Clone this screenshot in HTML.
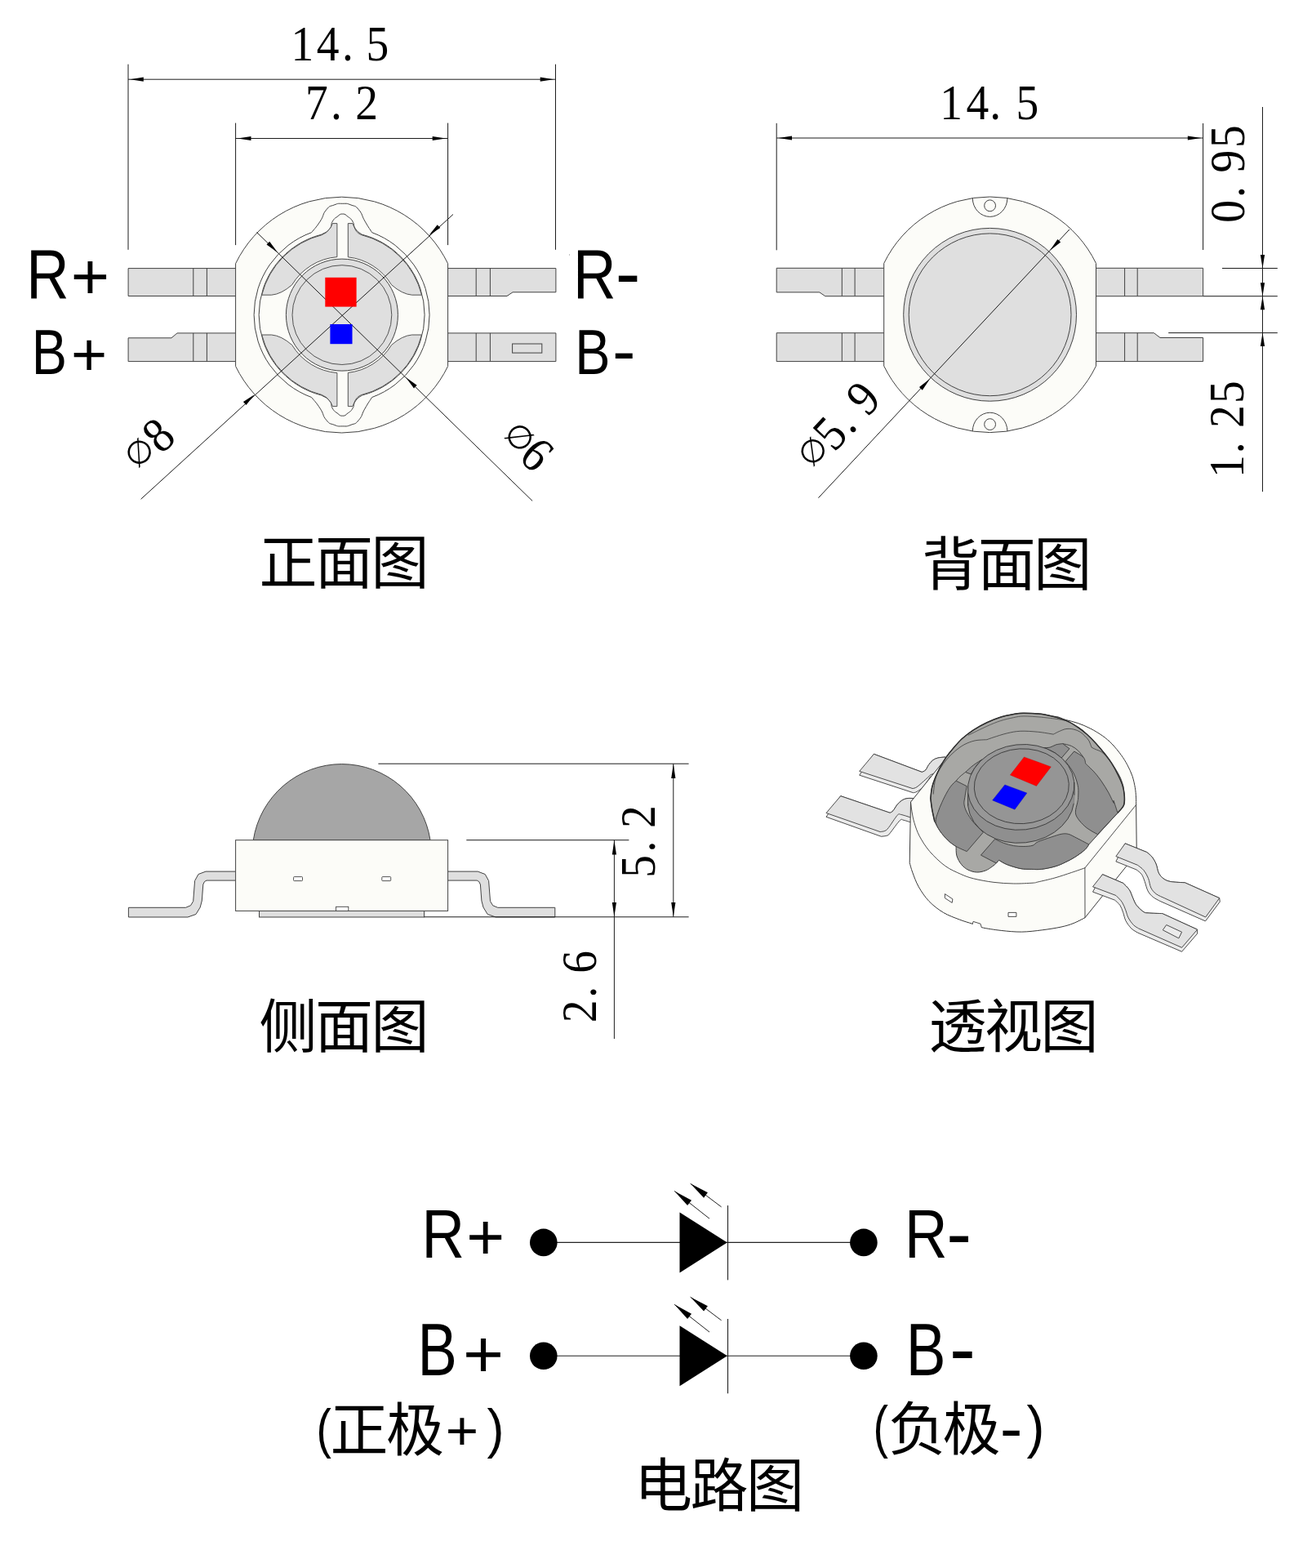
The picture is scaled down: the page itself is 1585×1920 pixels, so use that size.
<!DOCTYPE html>
<html lang="zh-CN">
<head>
<meta charset="utf-8">
<title>LED 尺寸图</title>
<style>
html,body{margin:0;padding:0;background:#fff;}
body{width:1585px;height:1920px;overflow:hidden;}
svg{display:block;will-change:transform;}
text{white-space:pre;}
</style>
</head>
<body>
<svg width="1585" height="1920" viewBox="0 0 1585 1920">
<rect width="1585" height="1920" fill="#fff"/>
<g id="front">
<polygon points="157.1,328.6 290.6,328.6 290.6,362.5 157.1,362.5" fill="#dfdfdf" stroke="#424242" stroke-width="1" stroke-linejoin="round"/>
<polygon points="157.1,413.8 210,413.8 217,407.9 290.6,407.9 290.6,442.6 157.1,442.6" fill="#dfdfdf" stroke="#424242" stroke-width="1" stroke-linejoin="round"/>
<polygon points="546.6,328.6 680.9,328.6 680.9,357.8 628,357.8 621,362.5 546.6,362.5" fill="#dfdfdf" stroke="#424242" stroke-width="1" stroke-linejoin="round"/>
<polygon points="546.6,407.9 680.9,407.9 680.9,442.6 546.6,442.6" fill="#dfdfdf" stroke="#424242" stroke-width="1" stroke-linejoin="round"/>
<rect x="627.6" y="421" width="36.2" height="11.1" fill="#dfdfdf" stroke="#424242"/>
<line x1="236.8" y1="328.6" x2="236.8" y2="362.5" stroke="#424242" stroke-width="1"/>
<line x1="236.8" y1="407.9" x2="236.8" y2="442.6" stroke="#424242" stroke-width="1"/>
<line x1="253.4" y1="328.6" x2="253.4" y2="362.5" stroke="#424242" stroke-width="1"/>
<line x1="253.4" y1="407.9" x2="253.4" y2="442.6" stroke="#424242" stroke-width="1"/>
<line x1="583.2" y1="328.6" x2="583.2" y2="362.5" stroke="#424242" stroke-width="1"/>
<line x1="583.2" y1="407.9" x2="583.2" y2="442.6" stroke="#424242" stroke-width="1"/>
<line x1="600.4" y1="328.6" x2="600.4" y2="362.5" stroke="#424242" stroke-width="1"/>
<line x1="600.4" y1="407.9" x2="600.4" y2="442.6" stroke="#424242" stroke-width="1"/>
<path d="M288.6 322.74 A144.4 144.4 0 0 1 548.6 322.74 L548.6 448.46 A144.4 144.4 0 0 1 288.6 448.46 Z" fill="#fcfcf8" stroke="#424242" stroke-width="1" stroke-linejoin="round"/>
<path d="M381.6 284.67 C384.75 280.6 386.67 279.43 392.1 271.1 C397.53 262.77 394.57 262.93 399.7 256.9 C404.83 250.87 403.23 253.28 409.2 251 C415.17 248.72 413.36 249.3 419.6 249.3 C425.84 249.3 424.03 248.72 430 251 C435.97 253.28 434.37 250.87 439.5 256.9 C444.63 262.93 442.27 262.77 447.1 271.1 C451.93 279.43 453.05 280.6 455.6 284.67 A107.5 107.5 0 0 1 455.6 486.53 C453.05 490.6 451.93 491.77 447.1 500.1 C442.27 508.43 444.63 508.27 439.5 514.3 C434.37 520.33 435.97 517.92 430 520.2 C424.03 522.48 425.84 521.9 419.6 521.9 C413.36 521.9 415.17 522.48 409.2 520.2 C403.23 517.92 404.83 520.33 399.7 514.3 C394.57 508.27 397.53 508.43 392.1 500.1 C386.67 491.77 384.75 490.6 381.6 486.53 A107.5 107.5 0 0 1 381.6 284.67 Z" fill="#fcfcf8" stroke="#424242" stroke-width="1" stroke-linejoin="round"/>
<path d="M393.6 287.23 C396.57 285.24 399.39 285.44 403.5 280.6 C407.61 275.76 404.45 275.66 407.3 271.1 C410.15 266.54 409.31 268.13 413 265.4 C416.69 262.67 415.64 262 419.6 262 C423.56 262 422.51 262.67 426.2 265.4 C429.89 268.13 429.05 266.54 431.9 271.1 C434.75 275.66 432.19 275.76 435.7 280.6 C439.21 285.44 441.23 285.24 443.6 287.23 A101.5 101.5 0 0 1 443.6 483.97 C441.23 485.96 439.21 485.76 435.7 490.6 C432.19 495.44 434.75 495.54 431.9 500.1 C429.05 504.66 429.89 503.07 426.2 505.8 C422.51 508.53 423.56 509.2 419.6 509.2 C415.64 509.2 416.69 508.53 413 505.8 C409.31 503.07 410.15 504.66 407.3 500.1 C404.45 495.54 407.61 495.44 403.5 490.6 C399.39 485.76 396.57 485.96 393.6 483.97 A101.5 101.5 0 0 1 393.6 287.23 Z" fill="#fcfcf8" stroke="#424242" stroke-width="1" stroke-linejoin="round"/>
<path d="M426.3 273.6 L426.3 314.82 A71.2 71.2 0 0 1 479.54 348.79 Q492.6 360.2 504.6 361.2 L516.52 361.2 A100.9 100.9 0 0 0 443.1 287.72 Q436.6 285.6 434.1 278.6 L431.9 273.6 Z" fill="#dfdfdf" stroke="#424242" stroke-width="0.9" stroke-linejoin="round"/>
<path d="M426.3 497.6 L426.3 456.38 A71.2 71.2 0 0 0 479.54 422.41 Q492.6 411 504.6 410 L516.52 410 A100.9 100.9 0 0 1 443.1 483.48 Q436.6 485.6 434.1 492.6 L431.9 497.6 Z" fill="#dfdfdf" stroke="#424242" stroke-width="0.9" stroke-linejoin="round"/>
<path d="M412.9 273.6 L412.9 314.63 A71.2 71.2 0 0 0 357.66 348.79 Q344.6 360.2 332.6 361.2 L320.68 361.2 A100.9 100.9 0 0 1 394.1 287.72 Q400.6 285.6 405.1 278.6 L407.3 273.6 Z" fill="#dfdfdf" stroke="#424242" stroke-width="0.9" stroke-linejoin="round"/>
<path d="M412.9 497.6 L412.9 456.57 A71.2 71.2 0 0 1 357.66 422.41 Q344.6 411 332.6 410 L320.68 410 A100.9 100.9 0 0 0 394.1 483.48 Q400.6 485.6 405.1 492.6 L407.3 497.6 Z" fill="#dfdfdf" stroke="#424242" stroke-width="0.9" stroke-linejoin="round"/>
<circle cx="418.9" cy="385.6" r="68.5" fill="#dfdfdf" stroke="#424242"/>
<circle cx="418.9" cy="385.6" r="60.9" fill="none" stroke="#424242" stroke-width="0.9"/>
<line x1="172.6" y1="611.2" x2="555" y2="262.5" stroke="#1c1c1c" stroke-width="1"/>
<line x1="314.5" y1="284.4" x2="652.1" y2="613.4" stroke="#1c1c1c" stroke-width="1"/>
<polygon points="525.3,288.3 535.74,275.26 539.24,279.11" fill="#000"/>
<polygon points="311.9,482.9 301.46,495.94 297.96,492.09" fill="#000"/>
<polygon points="497.02,462.02 510.65,471.68 507.02,475.4" fill="#000"/>
<polygon points="340.18,309.18 326.55,299.52 330.18,295.8" fill="#000"/>
<rect x="398.3" y="339.8" width="38.3" height="35.8" fill="#ff0000"/>
<rect x="404.4" y="397" width="27.1" height="24.2" fill="#0000ff"/>
<line x1="157" y1="78.7" x2="157" y2="305.8" stroke="#1c1c1c" stroke-width="1"/>
<line x1="680.5" y1="78.7" x2="680.5" y2="305.8" stroke="#1c1c1c" stroke-width="1"/>
<line x1="157" y1="97.2" x2="680.5" y2="97.2" stroke="#1c1c1c" stroke-width="1"/>
<polygon points="159.3,97.2 175.8,94.6 175.8,99.8" fill="#000"/>
<polygon points="678.2,97.2 661.7,99.8 661.7,94.6" fill="#000"/>
<line x1="288.6" y1="150.6" x2="288.6" y2="300.1" stroke="#1c1c1c" stroke-width="1"/>
<line x1="548.6" y1="150.6" x2="548.6" y2="300.1" stroke="#1c1c1c" stroke-width="1"/>
<line x1="288.6" y1="169.5" x2="548.6" y2="169.5" stroke="#1c1c1c" stroke-width="1"/>
<polygon points="291,169.5 307.5,166.9 307.5,172.1" fill="#000"/>
<polygon points="546.2,169.5 529.7,172.1 529.7,166.9" fill="#000"/>
<text transform="translate(0 74) scale(0.91 1)" font-family="'Liberation Serif','Noto Serif CJK SC',serif" font-size="61" text-anchor="middle" fill="#000" x="407.03 441.43 468.13 508.24" y="0">14.5</text>
<text transform="translate(0 145.9) scale(0.91 1)" font-family="'Liberation Serif','Noto Serif CJK SC',serif" font-size="61" text-anchor="middle" fill="#000" x="426.37 452.75 493.63" y="0">7.2</text>
<text transform="translate(184.32 568.94) rotate(-42.4) scale(0.91 1)" fill="#000" text-anchor="middle"><tspan font-family="'DejaVu Sans','Liberation Sans',sans-serif" font-size="39.5" x="0" y="-6.68" textLength="37.81" lengthAdjust="spacingAndGlyphs">∅</tspan><tspan font-family="'Liberation Serif','Noto Serif CJK SC',serif" font-size="61" x="34.55" y="0">8</tspan></text>
<text transform="translate(622.48 550.07) rotate(44.3) scale(0.91 1)" fill="#000" text-anchor="middle"><tspan font-family="'DejaVu Sans','Liberation Sans',sans-serif" font-size="39.5" x="0" y="-6.68" textLength="37.81" lengthAdjust="spacingAndGlyphs">∅</tspan><tspan font-family="'Liberation Serif','Noto Serif CJK SC',serif" font-size="61" x="32.63" y="0">6</tspan></text>
<text font-family="'Liberation Sans','Noto Sans CJK SC',sans-serif" fill="#000"><tspan x="32.2" y="364.5" font-size="84.35" textLength="52.38" lengthAdjust="spacingAndGlyphs">R</tspan><tspan x="86.85" y="366.31" font-size="78.98" textLength="47.32" lengthAdjust="spacingAndGlyphs">+</tspan></text>
<text font-family="'Liberation Sans','Noto Sans CJK SC',sans-serif" fill="#000"><tspan x="38.81" y="457.8" font-size="78.41" textLength="43.26" lengthAdjust="spacingAndGlyphs">B</tspan><tspan x="87.12" y="460.37" font-size="74.08" textLength="44.19" lengthAdjust="spacingAndGlyphs">+</tspan></text>
<text font-family="'Liberation Sans','Noto Sans CJK SC',sans-serif" fill="#000"><tspan x="701.97" y="364.5" font-size="84.35" textLength="52.62" lengthAdjust="spacingAndGlyphs">R</tspan><tspan x="753.65" y="366.19" font-size="93.75" textLength="30.72" lengthAdjust="spacingAndGlyphs">-</tspan></text>
<text font-family="'Liberation Sans','Noto Sans CJK SC',sans-serif" fill="#000"><tspan x="704.21" y="457.8" font-size="78.41" textLength="43.26" lengthAdjust="spacingAndGlyphs">B</tspan><tspan x="749.94" y="457.88" font-size="81.25" textLength="28.54" lengthAdjust="spacingAndGlyphs">-</tspan></text>
<text font-family="'Liberation Sans','Noto Sans CJK SC',sans-serif" fill="#000"><tspan x="317.6 386.1 454.6" y="713.5" font-size="71">正面图</tspan></text>
<rect x="697" y="311.5" width="1" height="1" fill="#888"/>
</g>
<g id="back">
<polygon points="951.2,328.3 1084.7,328.3 1084.7,362.7 1010.8,362.7 1003.8,357.9 951.2,357.9" fill="#dfdfdf" stroke="#424242" stroke-width="1" stroke-linejoin="round"/>
<polygon points="951.2,407.7 1084.7,407.7 1084.7,442.6 951.2,442.6" fill="#dfdfdf" stroke="#424242" stroke-width="1" stroke-linejoin="round"/>
<polygon points="1340.5,328.3 1473.6,328.3 1473.6,362.7 1340.5,362.7" fill="#dfdfdf" stroke="#424242" stroke-width="1" stroke-linejoin="round"/>
<polygon points="1340.5,407.7 1413.4,407.7 1421,413.5 1473.6,413.5 1473.6,442.6 1340.5,442.6" fill="#dfdfdf" stroke="#424242" stroke-width="1" stroke-linejoin="round"/>
<line x1="1031.3" y1="328.3" x2="1031.3" y2="362.7" stroke="#424242" stroke-width="1"/>
<line x1="1031.3" y1="407.7" x2="1031.3" y2="442.6" stroke="#424242" stroke-width="1"/>
<line x1="1047.1" y1="328.3" x2="1047.1" y2="362.7" stroke="#424242" stroke-width="1"/>
<line x1="1047.1" y1="407.7" x2="1047.1" y2="442.6" stroke="#424242" stroke-width="1"/>
<line x1="1377.6" y1="328.3" x2="1377.6" y2="362.7" stroke="#424242" stroke-width="1"/>
<line x1="1377.6" y1="407.7" x2="1377.6" y2="442.6" stroke="#424242" stroke-width="1"/>
<line x1="1393.2" y1="328.3" x2="1393.2" y2="362.7" stroke="#424242" stroke-width="1"/>
<line x1="1393.2" y1="407.7" x2="1393.2" y2="442.6" stroke="#424242" stroke-width="1"/>
<path d="M1082.7 322.46 A144.3 144.3 0 0 1 1342.5 322.46 L1342.5 448.14 A144.3 144.3 0 0 1 1082.7 448.14 Z" fill="#fcfcf8" stroke="#424242" stroke-width="1" stroke-linejoin="round"/>
<path d="M1191.3 242.58 A21.3 22.8 0 0 0 1233.9 242.58" fill="none" stroke="#424242" stroke-width="1" stroke-linejoin="round"/>
<path d="M1191.3 528.02 A21.3 22.8 0 0 1 1233.9 528.02" fill="none" stroke="#424242" stroke-width="1" stroke-linejoin="round"/>
<circle cx="1212.6" cy="251.8" r="6.9" fill="none" stroke="#424242"/>
<circle cx="1212.6" cy="519.6" r="6.9" fill="none" stroke="#424242"/>
<circle cx="1212.6" cy="385.3" r="105.9" fill="#dfdfdf" stroke="#424242"/>
<circle cx="1212.6" cy="385.3" r="99.4" fill="none" stroke="#424242"/>
<line x1="1002.4" y1="609.7" x2="1309.9" y2="281" stroke="#1c1c1c" stroke-width="1"/>
<polygon points="1286.04,306.8 1295.41,292.97 1299.21,296.52" fill="#000"/>
<polygon points="1139.16,463.8 1129.79,477.63 1125.99,474.08" fill="#000"/>
<line x1="951.2" y1="150.9" x2="951.2" y2="306.3" stroke="#1c1c1c" stroke-width="1"/>
<line x1="1473.6" y1="151" x2="1473.6" y2="306" stroke="#1c1c1c" stroke-width="1"/>
<line x1="951.2" y1="169" x2="1473.6" y2="169" stroke="#1c1c1c" stroke-width="1"/>
<polygon points="953.5,169 970,166.4 970,171.6" fill="#000"/>
<polygon points="1471.3,169 1454.8,171.6 1454.8,166.4" fill="#000"/>
<text transform="translate(0 146.4) scale(0.91 1)" font-family="'Liberation Serif','Noto Serif CJK SC',serif" font-size="61" text-anchor="middle" fill="#000" x="1280.44 1315.93 1339.78 1382.75" y="0">14.5</text>
<line x1="1546.5" y1="131" x2="1546.5" y2="602.1" stroke="#1c1c1c" stroke-width="1"/>
<line x1="1497" y1="328.5" x2="1564.8" y2="328.5" stroke="#1c1c1c" stroke-width="1"/>
<line x1="1473.6" y1="362.7" x2="1564.8" y2="362.7" stroke="#1c1c1c" stroke-width="1"/>
<line x1="1431.2" y1="407.6" x2="1564.8" y2="407.6" stroke="#1c1c1c" stroke-width="1"/>
<polygon points="1546.5,328.5 1543.9,312 1549.1,312" fill="#000"/>
<polygon points="1546.5,362.7 1543.9,346.2 1549.1,346.2" fill="#000"/>
<polygon points="1546.5,362.7 1549.1,379.2 1543.9,379.2" fill="#000"/>
<polygon points="1546.5,407.6 1549.1,424.1 1543.9,424.1" fill="#000"/>
<text transform="translate(1523.5 258.9) rotate(-90) scale(0.91 1)" font-family="'Liberation Serif','Noto Serif CJK SC',serif" font-size="61" text-anchor="middle" fill="#000" x="0 26.26 67.47 100.99" y="0">0.95</text>
<text transform="translate(1523.1 571.2) rotate(-90) scale(0.91 1)" font-family="'Liberation Serif','Noto Serif CJK SC',serif" font-size="61" text-anchor="middle" fill="#000" x="0 25.27 67.03 100.22" y="0">1.25</text>
<text transform="translate(1010.74 566.33) rotate(-46.8) scale(0.91 1)" fill="#000" text-anchor="middle"><tspan font-family="'DejaVu Sans','Liberation Sans',sans-serif" font-size="39.5" x="0" y="-6.68" textLength="37.81" lengthAdjust="spacingAndGlyphs">∅</tspan><tspan font-family="'Liberation Serif','Noto Serif CJK SC',serif" font-size="61" x="33.05 58.29 98.33" y="0">5.9</tspan></text>
<text font-family="'Liberation Sans','Noto Sans CJK SC',sans-serif" fill="#000"><tspan x="1129.2 1197.7 1266.2" y="715.5" font-size="71">背面图</tspan></text>
</g>
<g id="side">
<polygon points="289.6,1067.1 252,1067.1 243,1070.5 238.6,1078.5 236.7,1103.5 233.5,1108.8 227.5,1111.3 157.4,1111.3 157.4,1123 230,1123 240,1119.5 245.2,1111 247.3,1103 248.8,1083 250.5,1079.5 253,1078.1 289.6,1078.1" fill="#dfdfdf" stroke="#424242" stroke-width="1" stroke-linejoin="round"/>
<polygon points="547.6,1067.1 585.2,1067.1 594.2,1070.5 598.6,1078.5 600.5,1103.5 603.7,1108.8 609.7,1111.3 679.8,1111.3 679.8,1123 607.2,1123 597.2,1119.5 592,1111 589.9,1103 588.4,1083 586.7,1079.5 584.2,1078.1 547.6,1078.1" fill="#dfdfdf" stroke="#424242" stroke-width="1" stroke-linejoin="round"/>
<rect x="317.5" y="1113" width="202.1" height="10" fill="#dfdfdf" stroke="#424242"/>
<path d="M310.3 1028.7 A109.6 109.6 0 0 1 527 1028.7 Z" fill="#a6a6a6" stroke="#444" stroke-width="1" stroke-linejoin="round"/>
<rect x="288.6" y="1028.7" width="260" height="86.7" fill="#fcfcf8" stroke="#444"/>
<rect x="359.6" y="1073.6" width="10.9" height="5" rx="0.8" fill="#fff" stroke="#424242" stroke-width="0.9"/>
<rect x="467.8" y="1073.6" width="10.9" height="5" rx="0.8" fill="#fff" stroke="#424242" stroke-width="0.9"/>
<rect x="411.6" y="1110.3" width="15.2" height="5.1" fill="#fff" stroke="#424242" stroke-width="0.9"/>
<line x1="463.4" y1="935.2" x2="843.6" y2="935.2" stroke="#1c1c1c" stroke-width="1"/>
<line x1="571.3" y1="1028.7" x2="770.4" y2="1028.7" stroke="#1c1c1c" stroke-width="1"/>
<line x1="519.6" y1="1122.8" x2="843.6" y2="1122.8" stroke="#1c1c1c" stroke-width="1"/>
<line x1="824.8" y1="935.2" x2="824.8" y2="1122.8" stroke="#1c1c1c" stroke-width="1"/>
<polygon points="824.8,935.6 827.4,953.1 822.2,953.1" fill="#000"/>
<polygon points="824.8,1122.4 822.2,1104.9 827.4,1104.9" fill="#000"/>
<line x1="752.4" y1="1028.7" x2="752.4" y2="1272" stroke="#1c1c1c" stroke-width="1"/>
<polygon points="752.4,1029.1 755,1046.6 749.8,1046.6" fill="#000"/>
<polygon points="752.4,1122.4 749.8,1104.9 755,1104.9" fill="#000"/>
<text transform="translate(802 1060.9) rotate(-90) scale(0.91 1)" font-family="'Liberation Serif','Noto Serif CJK SC',serif" font-size="61" text-anchor="middle" fill="#000" x="0 26.7 66.92" y="0">5.2</text>
<text transform="translate(730.2 1238.4) rotate(-90) scale(0.91 1)" font-family="'Liberation Serif','Noto Serif CJK SC',serif" font-size="61" text-anchor="middle" fill="#000" x="0 26.04 66.59" y="0">2.6</text>
<text font-family="'Liberation Sans','Noto Sans CJK SC',sans-serif" fill="#000"><tspan x="317.6 386.1 454.6" y="1281.6" font-size="71">侧面图</tspan></text>
</g>
<g id="persp">
<path d="M1070.4 923.3 L1129.3 945.4 C1130.05 944.98 1132.43 944.37 1133.8 942.9 C1135.17 941.43 1136.03 938.6 1137.5 936.6 C1138.97 934.6 1140.7 932.33 1142.6 930.9 C1144.5 929.47 1146.33 928.65 1148.9 928 C1151.47 927.35 1156.48 927.17 1158 927 L1165 940 L1150 960 L1140 950.5 C1138.53 952.6 1134.03 959.95 1131.2 963.1 C1128.37 966.25 1125.1 968.13 1123 969.4 C1120.9 970.67 1119.33 970.48 1118.6 970.7 L1052.7 949.2Z" fill="#ebebeb" stroke="#3a3a3a" stroke-width="0.9" stroke-linejoin="round"/>
<path d="M1070.4 923.3 L1129.3 945.4 C1130.05 944.98 1132.43 944.37 1133.8 942.9 C1135.17 941.43 1136.03 938.6 1137.5 936.6 C1138.97 934.6 1140.7 932.33 1142.6 930.9 C1144.5 929.47 1146.33 928.65 1148.9 928 C1151.47 927.35 1156.48 927.17 1158 927 L1165 940 L1140.1 948.6 C1138.67 949.92 1134.35 953.98 1131.5 956.5 C1128.65 959.02 1125.25 962.18 1123 963.7 C1120.75 965.22 1118.83 965.28 1118 965.6 L1052.7 944.4Z" fill="#e2e2e2" stroke="#3a3a3a" stroke-width="0.9" stroke-linejoin="round"/>
<path d="M1029.7 974.7 L1090.2 995.3 C1090.83 994.87 1092.52 994.38 1094 992.7 C1095.48 991.02 1097.32 987.3 1099.1 985.2 C1100.88 983.1 1102.72 981.37 1104.7 980.1 C1106.68 978.83 1108.45 978.02 1111 977.6 C1113.55 977.18 1118.5 977.6 1120 977.6 L1120 1008.5 C1117.83 1007.8 1109.97 1004.93 1107 1004.3 C1104.03 1003.67 1104.88 1002.22 1102.2 1004.7 C1099.52 1007.18 1093.42 1016.15 1090.9 1019.2 C1088.38 1022.25 1089 1022.15 1087.1 1023 C1085.2 1023.85 1080.77 1024.08 1079.5 1024.3 L1012 1000.3Z" fill="#ebebeb" stroke="#3a3a3a" stroke-width="0.9" stroke-linejoin="round"/>
<path d="M1029.7 974.7 L1090.2 995.3 C1090.83 994.87 1092.52 994.38 1094 992.7 C1095.48 991.02 1097.32 987.3 1099.1 985.2 C1100.88 983.1 1102.72 981.37 1104.7 980.1 C1106.68 978.83 1108.45 978.02 1111 977.6 C1113.55 977.18 1118.5 977.6 1120 977.6 L1120 1002.5 C1117.25 1001.65 1106.98 998.08 1103.5 997.4 C1100.02 996.72 1101.63 995.7 1099.1 998.4 C1096.57 1001.1 1090.83 1010.43 1088.3 1013.6 C1085.77 1016.77 1085.58 1016.57 1083.9 1017.4 C1082.22 1018.23 1079.15 1018.4 1078.2 1018.6 L1012 995.5Z" fill="#e2e2e2" stroke="#3a3a3a" stroke-width="0.9" stroke-linejoin="round"/>
<path d="M1115.5 982 L1178.09 904.4 C1179.96 903.53 1185.46 900.75 1189.27 899.11 C1193.09 897.47 1197.02 895.94 1201 894.55 C1204.99 893.15 1209.07 891.89 1213.19 890.76 C1217.31 889.63 1221.51 888.63 1225.73 887.78 C1229.95 886.93 1234.23 886.21 1238.52 885.64 C1242.8 885.07 1247.12 884.64 1251.43 884.35 C1255.74 884.07 1257.93 885.12 1264.36 883.93 C1270.79 882.74 1283.19 877.62 1290 877.2 C1296.81 876.78 1300.15 880.02 1305.2 881.4 C1310.25 882.78 1315.25 883.73 1320.3 885.5 C1325.35 887.27 1330.45 889.4 1335.5 892 C1340.55 894.6 1346.18 897.95 1350.6 901.1 C1355.02 904.25 1358.22 907 1362 910.9 C1365.78 914.8 1370.15 920.2 1373.3 924.5 C1376.45 928.8 1378.62 932.4 1380.9 936.7 C1383.18 941 1385.42 945.63 1387 950.3 C1388.58 954.97 1389.65 960.4 1390.4 964.7 C1391.15 969 1391.3 972.63 1391.5 976.1 C1391.7 979.57 1391.58 983.93 1391.6 985.5 L1392.3 1045 L1329 1123.7 C1326.67 1124.83 1319.83 1128.62 1315 1130.5 C1310.17 1132.38 1306.38 1133.62 1300 1135 C1293.62 1136.38 1284.8 1137.78 1276.7 1138.8 C1268.6 1139.82 1259.82 1141 1251.4 1141.1 C1242.98 1141.2 1234.4 1140.32 1226.2 1139.4 C1218 1138.48 1208.08 1136.97 1202.2 1135.6 C1196.32 1134.23 1195.32 1132.77 1190.9 1131.2 C1186.48 1129.63 1181.6 1128.5 1175.7 1126.2 C1169.8 1123.9 1161.8 1121.18 1155.5 1117.4 C1149.2 1113.62 1142.95 1108.77 1137.9 1103.5 C1132.85 1098.23 1128.57 1091.7 1125.2 1085.8 C1121.83 1079.9 1119.53 1072.98 1117.7 1068.1 C1115.87 1063.22 1114.78 1058.43 1114.2 1056.5 L1115.5 982Z" fill="#fcfcf8" stroke="#3a3a3a" stroke-width="1" stroke-linejoin="round"/>
<path d="M1115.5 982 C1115.78 984.17 1116.47 990.78 1117.2 995 C1117.93 999.22 1118.4 1002.52 1119.9 1007.3 C1121.4 1012.08 1123.05 1017.82 1126.2 1023.7 C1129.35 1029.58 1133.55 1036.5 1138.8 1042.6 C1144.05 1048.7 1151.38 1055.68 1157.7 1060.3 C1164.02 1064.92 1170.91 1067.71 1176.7 1070.3 C1182.49 1072.89 1185.7 1074.15 1192.42 1075.82 C1199.15 1077.5 1208.83 1079.31 1217.03 1080.34 C1225.24 1081.36 1233.65 1081.84 1241.64 1081.98 C1249.64 1082.11 1260.06 1081.5 1265.02 1081.16 C1269.98 1080.81 1266.93 1080.95 1271.41 1079.93 C1275.89 1078.9 1285.08 1076.92 1291.92 1075 C1298.75 1073.09 1306.26 1070.48 1312.42 1068.44 C1318.59 1066.41 1326.15 1063.74 1328.9 1062.8" fill="none" stroke="#3a3a3a" stroke-width="0.9" stroke-linejoin="round"/>
<polyline points="1328.9,1062.8 1391.6,985.5" fill="none" stroke="#3a3a3a" stroke-width="0.9" stroke-linejoin="round" stroke-linecap="round"/>
<polyline points="1328.9,1062.8 1329,1123.7" fill="none" stroke="#3a3a3a" stroke-width="0.9" stroke-linejoin="round" stroke-linecap="round"/>
<path d="M1190.2 1133.5 L1192.1 1128.4 L1201 1131.2 L1202.6 1137.5 Z" fill="#fff" stroke="none" stroke-width="0" stroke-linejoin="round"/>
<polyline points="1191.2,1131.6 1192.1,1128.4 1201,1131.2 1202.2,1135.4" fill="none" stroke="#3a3a3a" stroke-width="0.9" stroke-linejoin="round" stroke-linecap="round"/>
<polygon points="1157.4,1094.6 1166.9,1100.9 1166.2,1105.4 1157.4,1099.7" fill="#fff" stroke="#3a3a3a" stroke-width="0.9" stroke-linejoin="round"/>
<polygon points="1235,1117.4 1244.9,1117.4 1244.9,1122.4 1235,1122.4" fill="#fff" stroke="#3a3a3a" stroke-width="0.9" stroke-linejoin="round"/>
<path d="M1144.84 1006.1 C1144.3 1003.5 1142.38 995.16 1141.56 990.51 C1140.74 985.86 1140.2 980.51 1139.92 978.2 C1139.65 975.89 1139.65 978.96 1139.92 976.64 C1140.2 974.33 1140.61 968.44 1141.56 964.34 C1142.52 960.24 1144.02 956.14 1145.66 952.03 C1147.31 947.93 1149.22 943.83 1151.41 939.73 C1153.59 935.63 1156.06 931.39 1158.79 927.42 C1161.52 923.46 1164.53 919.77 1167.81 915.94 C1171.1 912.11 1174.38 908.15 1178.48 904.45 C1182.58 900.76 1187.37 897.07 1192.42 893.79 C1197.48 890.51 1203.36 887.36 1208.83 884.77 C1214.3 882.17 1219.77 879.91 1225.24 878.2 C1230.71 876.49 1236.86 875.33 1241.64 874.51 C1246.43 873.69 1247.62 873.21 1253.95 873.28 C1260.28 873.35 1271.07 873.45 1279.61 874.92 C1288.15 876.39 1298.42 879.5 1305.2 882.1 C1311.98 884.7 1315.88 887.6 1320.3 890.5 C1324.72 893.4 1327.92 896.1 1331.7 899.5 C1335.48 902.9 1339.22 906.73 1343 910.9 C1346.78 915.07 1351.23 920.45 1354.4 924.5 C1357.57 928.55 1359.48 931.15 1362 935.2 C1364.52 939.25 1367.37 944.52 1369.5 948.8 C1371.63 953.08 1373.53 956.98 1374.8 960.9 C1376.07 964.82 1376.72 968.52 1377.1 972.3 C1377.48 976.08 1377.49 980.84 1377.1 983.6 C1376.71 986.36 1376.12 986.9 1374.77 988.87 C1373.42 990.84 1369.98 994.34 1369.03 995.43 L1333.75 1033.99 C1332.93 1035.08 1331.7 1037.95 1328.83 1040.55 C1325.96 1043.15 1320.63 1046.98 1316.53 1049.57 C1312.42 1052.17 1308.32 1054.22 1304.22 1056.14 C1300.12 1058.05 1296.7 1059.69 1291.92 1061.06 C1287.13 1062.43 1280.29 1063.79 1275.51 1064.34 C1270.72 1064.89 1267.48 1064.48 1263.2 1064.34 C1258.93 1064.2 1254.81 1064.48 1249.85 1063.52 C1244.89 1062.56 1237.82 1060.31 1233.44 1058.6 C1229.07 1056.89 1225.24 1054.15 1223.6 1053.26 L1220.32 1056.96 C1219.5 1057.64 1217.58 1059.55 1215.39 1061.06 C1213.21 1062.56 1210.33 1064.82 1207.19 1065.98 C1204.05 1067.14 1200.08 1068.17 1196.53 1068.03 C1192.97 1067.89 1189.01 1066.73 1185.86 1065.16 C1182.72 1063.59 1179.98 1061.47 1177.66 1058.6 C1175.33 1055.73 1173.01 1051.62 1171.92 1047.93 C1170.82 1044.24 1171.23 1038.36 1171.1 1036.45 C1169.45 1035.22 1164.53 1032.21 1161.25 1029.06 C1157.97 1025.92 1154.14 1021.41 1151.41 1017.58 C1148.67 1013.75 1145.94 1008.01 1144.84 1006.1Z" fill="#a8a8a5" stroke="#3a3a3a" stroke-width="1" stroke-linejoin="round"/>
<path d="M1144.84 1006.1 C1144.3 1003.5 1142.38 995.16 1141.56 990.51 C1140.74 985.86 1140.2 980.51 1139.92 978.2 C1139.65 975.89 1139.65 978.96 1139.92 976.64 C1140.2 974.33 1140.61 968.44 1141.56 964.34 C1142.52 960.24 1144.02 956.14 1145.66 952.03 C1147.31 947.93 1149.22 943.83 1151.41 939.73 C1153.59 935.63 1156.06 931.39 1158.79 927.42 C1161.52 923.46 1164.53 919.77 1167.81 915.94 C1171.1 912.11 1174.38 908.15 1178.48 904.45 C1182.58 900.76 1187.37 897.07 1192.42 893.79 C1197.48 890.51 1203.36 887.36 1208.83 884.77 C1214.3 882.17 1219.77 879.91 1225.24 878.2 C1230.71 876.49 1236.86 875.33 1241.64 874.51 C1246.43 873.69 1247.62 873.21 1253.95 873.28 C1260.28 873.35 1271.07 873.45 1279.61 874.92 C1288.15 876.39 1298.42 879.5 1305.2 882.1 C1311.98 884.7 1315.88 887.6 1320.3 890.5 C1324.72 893.4 1327.92 896.1 1331.7 899.5 C1335.48 902.9 1339.22 906.73 1343 910.9 C1346.78 915.07 1351.23 920.45 1354.4 924.5 C1357.57 928.55 1359.48 931.15 1362 935.2 C1364.52 939.25 1367.37 944.52 1369.5 948.8 C1371.63 953.08 1373.53 956.98 1374.8 960.9 C1376.07 964.82 1376.72 968.52 1377.1 972.3 C1377.48 976.08 1377.49 980.84 1377.1 983.6 C1376.71 986.36 1376.12 986.9 1374.77 988.87 C1373.42 990.84 1369.98 994.34 1369.03 995.43" fill="none" stroke="#2e2e2e" stroke-width="1.5" stroke-linejoin="round"/>
<path d="M1171.1 956.14 C1171.92 955.25 1174.1 952.58 1176.02 950.8 C1177.93 949.03 1181.49 946.36 1182.58 945.47" fill="none" stroke="#3a3a3a" stroke-width="0.9" stroke-linejoin="round"/>
<path d="M1301.76 910.61 C1303.54 911.09 1309.28 912.04 1312.42 913.48 C1315.57 914.91 1318.17 916.9 1320.63 919.22 C1323.09 921.54 1326.1 926.06 1327.19 927.42" fill="none" stroke="#3a3a3a" stroke-width="0.9" stroke-linejoin="round"/>
<path d="M1185.86 900.35 C1189.69 898.51 1202.27 892.22 1208.83 889.28 C1215.39 886.34 1219.77 884.49 1225.24 882.72 C1230.71 880.94 1236.86 879.57 1241.64 878.61 C1246.43 877.66 1248.31 877.04 1253.95 876.97 C1259.59 876.9 1268.5 877.59 1275.51 878.2 C1282.52 878.82 1291.23 879.98 1296.02 880.66 C1300.8 881.35 1302.85 882.03 1304.22 882.31" fill="none" stroke="#3a3a3a" stroke-width="0.7" stroke-linejoin="round"/>
<path d="M1143.2 972.54 C1143.61 969.54 1144.3 959.69 1145.66 954.5 C1147.03 949.3 1149.08 945.47 1151.41 941.37 C1153.73 937.27 1156.6 933.44 1159.61 929.89 C1162.62 926.33 1165.9 923.05 1169.45 920.04 C1173.01 917.03 1176.84 914.03 1180.94 911.84 C1185.04 909.65 1189.42 907.94 1194.06 906.92 C1198.71 905.89 1206.37 905.89 1208.83 905.68 C1210.2 905.21 1212.93 904.11 1217.03 902.81 C1221.14 901.51 1227.97 899.15 1233.44 897.89 C1238.91 896.63 1243.52 895.54 1249.85 895.27 C1256.18 894.99 1264.67 895.61 1271.41 896.25 C1278.14 896.89 1287.13 898.64 1290.27 899.12 C1291.51 898.51 1295.06 896.52 1297.66 895.43 C1300.26 894.34 1302.99 892.97 1305.86 892.56 C1308.73 892.15 1312.01 892.35 1314.89 892.97 C1317.76 893.58 1320.76 894.88 1323.09 896.25 C1325.41 897.62 1327.05 899.4 1328.83 901.17 C1330.61 902.95 1332.39 904.59 1333.75 906.92 C1335.12 909.24 1336.49 913.75 1337.03 915.12 C1337.85 915.53 1339.91 916.62 1341.96 917.58 C1344.01 918.54 1346.74 918.95 1349.34 920.86 C1351.94 922.78 1354.81 925.78 1357.54 929.06 C1360.28 932.35 1363.29 936.72 1365.75 940.55 C1368.21 944.38 1370.53 948.07 1372.31 952.03 C1374.09 956 1375.73 962.29 1376.41 964.34" fill="none" stroke="#3a3a3a" stroke-width="0.8" stroke-linejoin="round"/>
<path d="M1171.1 956.14 L1184.22 962.7 C1183.81 965.02 1182.31 972.97 1181.76 976.64 C1181.21 980.32 1180.53 981.77 1180.94 984.77 C1181.35 987.76 1182.31 990.92 1184.22 994.61 C1186.13 998.3 1189.07 1002.81 1192.42 1006.92 C1195.77 1011.02 1202.34 1017.17 1204.32 1019.22 L1184.22 1042.6 C1182.03 1041.58 1174.92 1038.7 1171.1 1036.45 C1167.27 1034.19 1164.53 1032.21 1161.25 1029.06 C1157.97 1025.92 1153.94 1021.41 1151.41 1017.58 C1148.88 1013.75 1146.48 1009.92 1146.07 1006.1 C1145.66 1002.27 1147.65 998.58 1148.95 994.61 C1150.24 990.65 1152.02 986.41 1153.87 982.31 C1155.71 978.2 1158.11 973.4 1160.02 970 C1161.93 966.6 1163.51 964.19 1165.35 961.88 C1167.2 959.57 1170.14 957.09 1171.1 956.14Z" fill="#8f8f8f" stroke="#3a3a3a" stroke-width="0.9" stroke-linejoin="round"/>
<path d="M1218.68 1027.42 L1201.45 1047.11 L1220.32 1056.96 L1223.6 1053.26 C1225.24 1054.15 1229.07 1056.89 1233.44 1058.6 C1237.82 1060.31 1244.89 1062.56 1249.85 1063.52 C1254.81 1064.48 1258.93 1064.2 1263.2 1064.34 C1267.48 1064.48 1270.72 1064.89 1275.51 1064.34 C1280.29 1063.79 1287.13 1062.43 1291.92 1061.06 C1296.7 1059.69 1300.12 1058.05 1304.22 1056.14 C1308.32 1054.22 1312.42 1052.17 1316.53 1049.57 C1320.63 1046.98 1325.96 1043.15 1328.83 1040.55 C1331.7 1037.95 1332.93 1035.08 1333.75 1033.99 C1330.88 1032.48 1320.76 1027.08 1316.53 1024.96 C1312.29 1022.84 1311.06 1021.89 1308.32 1021.27 C1305.59 1020.66 1303.54 1020.66 1300.12 1021.27 C1296.7 1021.89 1292.6 1023.39 1287.81 1024.96 C1283.03 1026.54 1275.21 1029 1271.41 1030.71 C1267.61 1032.41 1267.93 1034.26 1265.02 1035.22 C1262.12 1036.17 1257.85 1036.38 1253.95 1036.45 C1250.05 1036.52 1245.75 1036.31 1241.64 1035.63 C1237.54 1034.94 1233.17 1033.71 1229.34 1032.35 C1225.51 1030.98 1220.45 1028.24 1218.68 1027.42Z" fill="#8f8f8f" stroke="#3a3a3a" stroke-width="0.9" stroke-linejoin="round"/>
<path d="M1315.71 920.04 C1317.62 921.27 1324.87 924.96 1327.19 927.42 C1329.51 929.89 1329.24 933.58 1329.65 934.81 C1330.33 935.49 1331.84 936.99 1333.75 938.91 C1335.67 940.82 1338.54 943.28 1341.14 946.29 C1343.73 949.3 1346.61 952.99 1349.34 956.96 C1352.07 960.92 1355.08 965.71 1357.54 970.08 C1360 974.46 1363.01 981.44 1364.11 983.21 C1365.2 984.97 1363.29 978.63 1364.11 980.66 C1364.93 982.7 1368.21 992.97 1369.03 995.43 L1344.42 1021.68 C1343.19 1021 1339.63 1019.22 1337.03 1017.58 C1334.44 1015.94 1331.57 1014.3 1328.83 1011.84 C1326.1 1009.38 1322.54 1005.68 1320.63 1002.81 C1318.71 999.94 1317.48 998.03 1317.35 994.61 C1317.21 991.19 1319.26 985.3 1319.81 982.31 C1320.35 979.31 1320.49 979.64 1320.63 976.64 C1320.76 973.65 1321.17 968.44 1320.63 964.34 C1320.08 960.24 1318.71 955.73 1317.35 952.03 C1315.98 948.34 1314.47 945.47 1312.42 942.19 C1310.37 938.91 1306.27 933.99 1305.04 932.35 L1315.71 920.04Z" fill="#8f8f8f" stroke="#3a3a3a" stroke-width="0.9" stroke-linejoin="round"/>
<path d="M1277.97 915.53 C1279.34 915.46 1283.58 915.73 1286.17 915.12 C1288.77 914.5 1290.96 912.59 1293.56 911.84 C1296.15 911.09 1300.39 910.81 1301.76 910.61 L1309.96 916.76 L1300.12 928.24 C1298.75 927.15 1294.65 923.46 1291.92 921.68 C1289.18 919.9 1286.04 918.61 1283.71 917.58 C1281.39 916.55 1278.93 915.87 1277.97 915.53Z" fill="#8f8f8f" stroke="#3a3a3a" stroke-width="0.9" stroke-linejoin="round"/>
<path d="M1182.58 945.47 C1184.22 944.04 1189.01 939.46 1192.42 936.86 C1195.84 934.26 1201.31 931.05 1203.09 929.89 C1202.13 930.84 1199.67 932.62 1197.35 935.63 C1195.02 938.64 1190.51 945.88 1189.14 947.93 L1182.58 945.47Z" fill="#969696" stroke="#3a3a3a" stroke-width="0.9" stroke-linejoin="round"/>
<ellipse cx="1250.66" cy="979.87" rx="65.34" ry="52.23" transform="rotate(-6.25 1250.66 979.87)" fill="#8f8f8f" stroke="#3a3a3a" stroke-width="0.9"/>
<rect x="1185.66" y="967.87" width="130.2" height="16" fill="#8f8f8f"/>
<line x1="1185.6" y1="970.5" x2="1185.6" y2="986.5" stroke="#3a3a3a" stroke-width="0.9"/>
<line x1="1316" y1="958" x2="1316" y2="973.5" stroke="#3a3a3a" stroke-width="0.9"/>
<ellipse cx="1250.66" cy="963.87" rx="65.34" ry="52.23" transform="rotate(-6.25 1250.66 963.87)" fill="#979797" stroke="#3a3a3a" stroke-width="0.9"/>
<ellipse cx="1251.29" cy="962.73" rx="58.05" ry="45.9" transform="rotate(-3.2 1251.29 962.73)" fill="#959595" stroke="#3a3a3a" stroke-width="0.9"/>
<polygon points="1254.4,926.9 1287.4,938.9 1269.5,962.5 1237.3,949" fill="#ff0000" stroke="#b00" stroke-width="0.3" stroke-linejoin="round"/>
<polygon points="1230.8,960.9 1257.9,971 1243,991.2 1215.6,979.9" fill="#0000ff" stroke="#00a" stroke-width="0.3" stroke-linejoin="round"/>
<path d="M1378.2 1032.8 L1404.7 1043.5 C1405.75 1044.45 1409.1 1046.78 1411 1049.2 C1412.9 1051.62 1414.73 1054.73 1416.1 1058 C1417.47 1061.27 1417.73 1065.85 1419.2 1068.8 C1420.67 1071.75 1422.47 1073.92 1424.9 1075.7 C1427.33 1077.48 1429.38 1078.65 1433.8 1079.5 C1438.22 1080.35 1448.47 1080.58 1451.4 1080.8 L1493.7 1099.7 L1494.3 1104.1 L1476.7 1127.7 L1476 1127.7 L1421.1 1103.5 C1419.63 1102.65 1414.82 1100.5 1412.3 1098.4 C1409.78 1096.3 1407.68 1094.05 1406 1090.9 C1404.32 1087.75 1403.47 1082.87 1402.2 1079.5 C1400.93 1076.13 1400.08 1073.12 1398.4 1070.7 C1396.72 1068.28 1393.15 1065.95 1392.1 1065 L1366.9 1054.9Z" fill="#ebebeb" stroke="#3a3a3a" stroke-width="0.9" stroke-linejoin="round"/>
<path d="M1378.2 1032.8 L1404.7 1043.5 C1405.75 1044.45 1409.1 1046.78 1411 1049.2 C1412.9 1051.62 1414.73 1054.73 1416.1 1058 C1417.47 1061.27 1417.73 1065.85 1419.2 1068.8 C1420.67 1071.75 1422.47 1073.92 1424.9 1075.7 C1427.33 1077.48 1429.38 1078.65 1433.8 1079.5 C1438.22 1080.35 1448.47 1080.58 1451.4 1080.8 L1493.7 1099.7 L1476.7 1123 L1426.2 1099.7 C1424.52 1098.85 1418.83 1096.7 1416.1 1094.6 C1413.37 1092.5 1411.38 1090.25 1409.8 1087.1 C1408.22 1083.95 1408.08 1079.28 1406.6 1075.7 C1405.12 1072.12 1403.1 1068.33 1400.9 1065.6 C1398.7 1062.87 1394.65 1060.35 1393.4 1059.3 L1366.9 1048.6Z" fill="#e2e2e2" stroke="#3a3a3a" stroke-width="0.9" stroke-linejoin="round"/>
<path d="M1350.5 1070.7 L1375.7 1081.4 C1376.97 1082.77 1381.3 1086.55 1383.3 1089.6 C1385.3 1092.65 1386.23 1096.55 1387.7 1099.7 C1389.17 1102.85 1389.9 1105.67 1392.1 1108.5 C1394.3 1111.33 1398.37 1115.12 1400.9 1116.7 C1403.43 1118.28 1403.5 1117.68 1407.3 1118 C1411.1 1118.32 1420.97 1118.5 1423.7 1118.6 L1466.6 1138.2 L1466.6 1143.2 L1447.6 1165.3 L1393.4 1142 C1392.13 1141.15 1388.22 1139.33 1385.8 1136.9 C1383.38 1134.47 1380.58 1130.65 1378.9 1127.4 C1377.22 1124.15 1376.87 1120.55 1375.7 1117.4 C1374.53 1114.25 1373.58 1111.03 1371.9 1108.5 C1370.22 1105.97 1366.65 1103.25 1365.6 1102.2 L1338.5 1092.1Z" fill="#ebebeb" stroke="#3a3a3a" stroke-width="0.9" stroke-linejoin="round"/>
<path d="M1350.5 1070.7 L1375.7 1081.4 C1376.97 1082.77 1381.3 1086.55 1383.3 1089.6 C1385.3 1092.65 1386.23 1096.55 1387.7 1099.7 C1389.17 1102.85 1389.9 1105.67 1392.1 1108.5 C1394.3 1111.33 1398.37 1115.12 1400.9 1116.7 C1403.43 1118.28 1403.5 1117.68 1407.3 1118 C1411.1 1118.32 1420.97 1118.5 1423.7 1118.6 L1466.6 1138.2 L1447.6 1160.3 L1394.6 1136.9 C1393.55 1136.17 1390.4 1134.7 1388.3 1132.5 C1386.2 1130.3 1383.57 1126.65 1382 1123.7 C1380.43 1120.75 1380.17 1117.97 1378.9 1114.8 C1377.63 1111.63 1376.4 1107.75 1374.4 1104.7 C1372.4 1101.65 1368.15 1097.87 1366.9 1096.5 L1338.5 1085.8Z" fill="#e2e2e2" stroke="#3a3a3a" stroke-width="0.9" stroke-linejoin="round"/>
<polygon points="1428.7,1132.5 1447.6,1141.3 1443.8,1148.9 1424.3,1138.8" fill="#ebebeb" stroke="#3a3a3a" stroke-width="0.9" stroke-linejoin="round"/>
<text font-family="'Liberation Sans','Noto Sans CJK SC',sans-serif" fill="#000"><tspan x="1137.6 1206.1 1274.6" y="1281.6" font-size="71">透视图</tspan></text>
</g>
<g id="circuit">
<line x1="665.8" y1="1521.4" x2="1057.9" y2="1521.4" stroke="#222" stroke-width="1.1"/>
<circle cx="665.8" cy="1521.4" r="16.8" fill="#000"/>
<circle cx="1057.9" cy="1521.4" r="16.8" fill="#000"/>
<polygon points="832.5,1484.4 832.5,1558.4 890.8,1521.4" fill="#000"/>
<line x1="891.5" y1="1476.1" x2="891.5" y2="1567.4" stroke="#222" stroke-width="1.1"/>
<line x1="869" y1="1492.2" x2="826.1" y2="1458.4" stroke="#222" stroke-width="1"/>
<polygon points="826.1,1458.4 847.03,1469.8 842.08,1476.09" fill="#000"/>
<line x1="883.6" y1="1477.9" x2="845.7" y2="1449.3" stroke="#222" stroke-width="1"/>
<polygon points="845.7,1449.3 866.87,1460.26 862.05,1466.65" fill="#000"/>
<line x1="665.8" y1="1660.3" x2="1057.9" y2="1660.3" stroke="#222" stroke-width="1.1"/>
<circle cx="665.8" cy="1660.3" r="16.8" fill="#000"/>
<circle cx="1057.9" cy="1660.3" r="16.8" fill="#000"/>
<polygon points="832.5,1623.3 832.5,1697.3 890.8,1660.3" fill="#000"/>
<line x1="891.5" y1="1615" x2="891.5" y2="1706.3" stroke="#222" stroke-width="1.1"/>
<line x1="869" y1="1631.1" x2="826.1" y2="1597.3" stroke="#222" stroke-width="1"/>
<polygon points="826.1,1597.3 847.03,1608.7 842.08,1614.99" fill="#000"/>
<line x1="883.6" y1="1616.8" x2="845.7" y2="1588.2" stroke="#222" stroke-width="1"/>
<polygon points="845.7,1588.2 866.87,1599.16 862.05,1605.55" fill="#000"/>
<text font-family="'Liberation Sans','Noto Sans CJK SC',sans-serif" fill="#000"><tspan x="516.38" y="1540.4" font-size="84.06" textLength="52.5" lengthAdjust="spacingAndGlyphs">R</tspan><tspan x="571.19" y="1542.49" font-size="78.78" textLength="46.84" lengthAdjust="spacingAndGlyphs">+</tspan></text>
<text font-family="'Liberation Sans','Noto Sans CJK SC',sans-serif" fill="#000"><tspan x="511.4" y="1684.3" font-size="90.72" textLength="48.37" lengthAdjust="spacingAndGlyphs">B</tspan><tspan x="566.91" y="1685.92" font-size="82.45" textLength="50.09" lengthAdjust="spacingAndGlyphs">+</tspan></text>
<text font-family="'Liberation Sans','Noto Sans CJK SC',sans-serif" fill="#000"><tspan x="1107.88" y="1540.4" font-size="84.06" textLength="52.5" lengthAdjust="spacingAndGlyphs">R</tspan><tspan x="1159.23" y="1542.17" font-size="95" textLength="30.85" lengthAdjust="spacingAndGlyphs">-</tspan></text>
<text font-family="'Liberation Sans','Noto Sans CJK SC',sans-serif" fill="#000"><tspan x="1109.65" y="1684.3" font-size="90.72" textLength="48.75" lengthAdjust="spacingAndGlyphs">B</tspan><tspan x="1162.88" y="1686.64" font-size="103.75" textLength="31.94" lengthAdjust="spacingAndGlyphs">-</tspan></text>
<text font-family="'Liberation Sans','Noto Sans CJK SC',sans-serif" fill="#000"><tspan x="387.39" y="1771.63" font-size="67.49" textLength="18.35" lengthAdjust="spacingAndGlyphs">(</tspan><tspan x="404.4 473" y="1775.7" font-size="71">正极</tspan><tspan x="545.75" y="1775.42" font-size="66.94" textLength="40.34" lengthAdjust="spacingAndGlyphs">+</tspan><tspan x="596.47" y="1771.63" font-size="67.49" textLength="21" lengthAdjust="spacingAndGlyphs">)</tspan></text>
<text font-family="'Liberation Sans','Noto Sans CJK SC',sans-serif" fill="#000"><tspan x="1069.47" y="1770.51" font-size="69.95" textLength="18.47" lengthAdjust="spacingAndGlyphs">(</tspan><tspan x="1087.9 1154.4" y="1775.1" font-size="71">负极</tspan><tspan x="1224.75" y="1775.7" font-size="80" textLength="27.73" lengthAdjust="spacingAndGlyphs">-</tspan><tspan x="1257.44" y="1770.51" font-size="69.95" textLength="21.9" lengthAdjust="spacingAndGlyphs">)</tspan></text>
<text font-family="'Liberation Sans','Noto Sans CJK SC',sans-serif" fill="#000"><tspan x="777.1 845.6 914.1" y="1844.4" font-size="71">电路图</tspan></text>
</g>
</svg>
</body>
</html>
